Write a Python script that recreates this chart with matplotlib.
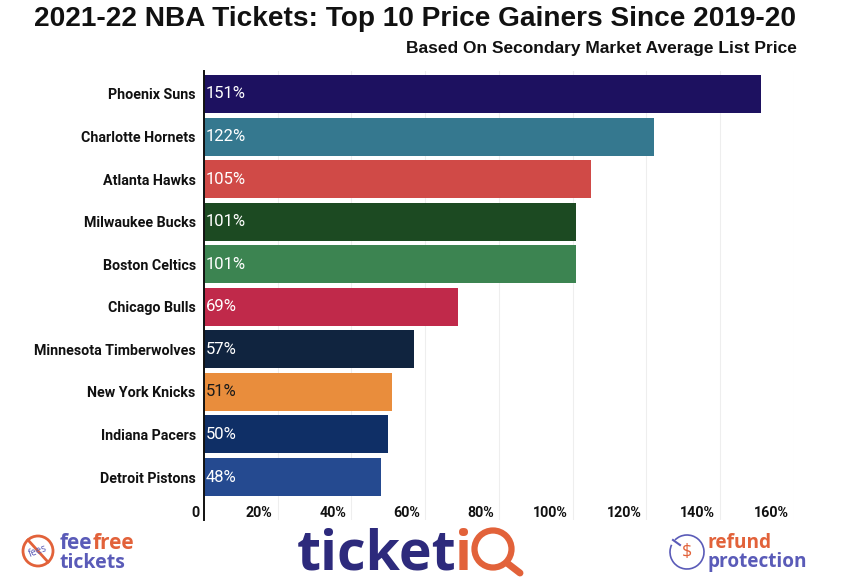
import matplotlib
matplotlib.use("Agg")
import matplotlib.pyplot as plt
from matplotlib.patches import Circle, Arc

teams = ["Phoenix Suns", "Charlotte Hornets", "Atlanta Hawks", "Milwaukee Bucks", "Boston Celtics",
         "Chicago Bulls", "Minnesota Timberwolves", "New York Knicks", "Indiana Pacers", "Detroit Pistons"]
gains = [151, 122, 105, 101, 101, 69, 57, 51, 50, 48]
colors = ["#1d1160", "#35788f", "#d04a47", "#1c4a22", "#3c8451",
          "#c0294a", "#10243f", "#e98d3c", "#0f2f66", "#254a90"]
label_colors = ["white"] * 7 + ["#1a1a1a"] + ["white"] * 2
xticks = [20, 40, 60, 80, 100, 120, 140, 160]

W, H = 854, 588
BLUE = "#5a5bb8"
NAVY = "#2d2a7c"
ORANGE = "#e2623a"
INK = "#111111"

fig = plt.figure(figsize=(W / 100, H / 100), dpi=100, facecolor="white")

# plot area, in pixels of the reference
ax = fig.add_axes([204 / W, 1 - 520 / H, (794 - 204) / W, (520 - 71) / H])
ax.barh(range(len(teams)), gains, height=0.893, color=colors, zorder=2)
ax.set_xlim(0, 160)
ax.set_ylim(10.01, -0.54)

ax.set_yticks(range(len(teams)))
ax.set_yticklabels(teams, family="Roboto", fontweight="bold", fontsize=10.3, color=INK, va="center_baseline")
ax.set_xticks(xticks)
ax.set_xticklabels([])
ax.tick_params(axis="y", length=0, pad=6)
ax.tick_params(axis="x", length=0)
ax.xaxis.grid(True, color="#eeeeee", lw=0.8, zorder=0)
ax.set_axisbelow(True)
for s in ["top", "right", "bottom"]:
    ax.spines[s].set_visible(False)
ax.spines["left"].set_linewidth(1.4)
ax.spines["left"].set_color(INK)

# tick labels sit inside the plot, just left of their gridline
for t in xticks:
    ax.annotate(f"{t}%", (t, 0), xycoords=("data", "axes fraction"), xytext=(-3.6, 5.2),
                textcoords="offset points", ha="right", va="center", family="Roboto",
                fontweight="bold", fontsize=10.3, color=INK)
fig.text(200 / W, 1 - 513 / H, "0", family="Roboto", fontweight="bold", fontsize=10.3,
         color=INK, ha="right", va="center")

for i, v in enumerate(gains):
    ax.annotate(f"{v}%", (0, i), xytext=(1.2, 0), textcoords="offset points", color=label_colors[i],
                va="center", ha="left", family="Roboto", fontsize=12, zorder=3)

fig.text(415.5 / W, 1 - 19 / H, "2021-22 NBA Tickets: Top 10 Price Gainers Since 2019-20",
         family="Liberation Sans", fontweight="bold", fontsize=20.2, color=INK, ha="center", va="center")
fig.text(797 / W, 1 - 48.5 / H, "Based On Secondary Market Average List Price",
         family="Liberation Sans", fontweight="bold", fontsize=12.55, color=INK, ha="right", va="center")

# logos drawn on an overlay in pixel coordinates
ov = fig.add_axes([0, 0, 1, 1], facecolor="none")
ov.set_xlim(0, W)
ov.set_ylim(H, 0)
ov.axis("off")

# fee free tickets
ov.add_patch(Circle((38, 551), 15, fill=False, ec=ORANGE, lw=2))
ov.plot([28, 48], [540, 562], color=ORANGE, lw=2)
ov.text(38, 551, "fees", color=BLUE, family="Open Sans", fontsize=7, rotation=20, ha="center", va="center")
ov.text(60, 549, "fee", color=BLUE, family="Open Sans", fontweight="bold", fontsize=15, va="baseline")
ov.text(93, 549, "free", color=ORANGE, family="Open Sans", fontweight="bold", fontsize=15, va="baseline")
ov.text(60, 568.5, "tickets", color=BLUE, family="Open Sans", fontweight="bold", fontsize=14, va="baseline")

# ticketiQ
ov.text(297, 570, "ticket", color=NAVY, family="Open Sans", fontweight="bold", fontsize=40, va="baseline")
ov.text(455, 570, "i", color=ORANGE, family="Open Sans", fontweight="bold", fontsize=40, va="baseline")
ov.add_patch(Circle((493, 549), 18.5, fill=False, ec=ORANGE, lw=4.5))
ov.plot([507, 520], [563, 573], color=ORANGE, lw=5, solid_capstyle="round")

# refund protection
ov.add_patch(Arc((687, 552), 34, 34, theta1=225, theta2=565, ec=BLUE, lw=1.2))
ov.plot([673, 680], [540, 545], color=BLUE, lw=1.5)
ov.text(687, 552, "$", color=ORANGE, family="Open Sans", fontsize=13, ha="center", va="center")
ov.text(708, 547.5, "refund", color=ORANGE, family="Open Sans", fontweight="bold", fontsize=13.7, va="baseline")
ov.text(708, 566.5, "protection", color=BLUE, family="Open Sans", fontweight="bold", fontsize=13.7, va="baseline")

fig.savefig("out.png", dpi=100)
